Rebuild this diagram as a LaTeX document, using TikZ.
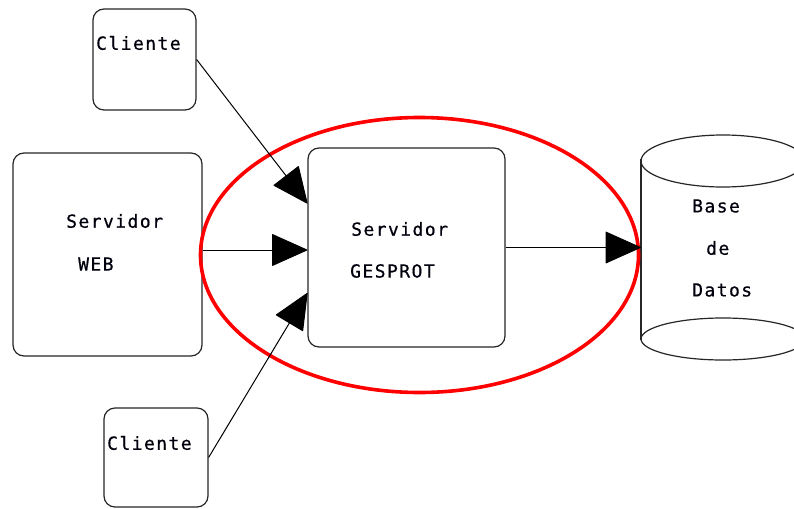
\documentclass[tikz,border=0pt]{standalone}
\usepackage{fontspec}
\usetikzlibrary{arrows.meta,calc}
\newfontfamily\lblfont[LetterSpace=8,FakeBold=0.6]{DejaVu Sans Mono}
\begin{document}
\begin{tikzpicture}[x=1pt,y=-1pt,
  box/.style={draw=black!85, line width=1.2pt, rounded corners=11pt, inner sep=0pt},
  lbl/.style={anchor=west, inner sep=0pt, font=\lblfont\fontsize{18pt}{21pt}\selectfont, text=black!95!blue},
  conn/.style={draw=black, line width=1pt, -{Triangle[length=36pt,width=32pt,round]}},
  cyl/.style={draw=black!85, line width=1.2pt}]
\useasboundingbox (0,0) rectangle (794,508);
\clip (0,0) rectangle (794,508);
\fill[white] (0,0) rectangle (794,508);
% boxes
\node[box, minimum width=103pt, minimum height=101pt] (cli1) at (144.5,59.5) {};
\node[box, minimum width=189pt, minimum height=203pt] (web) at (107.5,254.5) {};
\node[box, minimum width=197pt, minimum height=199pt] (gesprot) at (406.5,247.5) {};
\node[box, minimum width=104pt, minimum height=99pt] (cli2) at (156,457.5) {};
% database cylinder
\node[inner sep=0pt, minimum width=164pt, minimum height=173pt] (db) at (723,247.5) {};
\draw[cyl] (641,159) -- (641,340);
\draw[cyl] (723,161) ellipse [x radius=82pt, y radius=26pt];
\draw[cyl] (723,339) ellipse [x radius=82pt, y radius=21pt];
% labels
\node[lbl] (tc1) at (96,43) {Cliente};
\node[lbl] (tw1) at (66,221) {Servidor};
\node[lbl] (tw2) at (78,264) {WEB};
\node[lbl] (tg1) at (351,229) {Servidor};
\node[lbl] (tg2) at (350,271) {GESPROT};
\node[lbl] (td1) at (692,206) {Base};
\node[lbl] (td2) at (706,248) {de};
\node[lbl] (td3) at (692,290) {Datos};
\node[lbl] (tc2) at (107,443) {Cliente};
% red ellipse
\draw[red, line width=3.6pt] (419.5,255) ellipse [x radius=219pt, y radius=137.5pt];
% connectors
\coordinate (gmid) at ([yshift=-2.5pt]gesprot.west);
\coordinate (wout) at (web.east |- gmid);
\draw[conn] (cli1.east) -- ([yshift=44pt]gesprot.west);
\draw[conn] (wout) -- (gmid);
\draw[conn] (cli2.east) -- ([yshift=-45.5pt]gesprot.west);
\draw[conn] (gesprot.east) -- (db.west);
\end{tikzpicture}
\end{document}
